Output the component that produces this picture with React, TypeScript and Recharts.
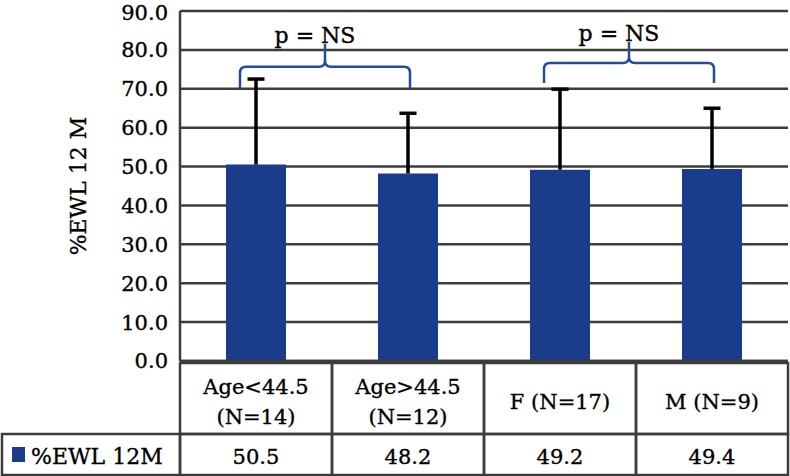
import { Bar, BarChart, CartesianGrid, ErrorBar, ReferenceArea, XAxis, YAxis } from 'recharts'

const categories = ['Age<44.5', 'Age>44.5', 'F (N=17)', 'M (N=9)']
const subLabels = ['(N=14)', '(N=12)', '', '']
const means = [50.5, 48.2, 49.2, 49.4]
const sds = [22.0, 15.5, 20.7, 15.6]
const yTicks = [0, 10, 20, 30, 40, 50, 60, 70, 80, 90]
const seriesName = '%EWL 12M'
const axisTitle = '%EWL 12 M'
const brackets = [
  { from: 'Age<44.5', to: 'Age>44.5', foot: 70, top: 81.5, text: 'p = NS' },
  { from: 'F (N=17)', to: 'M (N=9)', foot: 71.5, top: 82, text: 'p = NS' },
]

const data = categories.map((label, i) => ({
  label,
  sub: subLabels[i],
  value: means[i],
  err: [0, sds[i]],
}))

const W = 790
const H = 476
const LEFT = 180
const RIGHT = 2
const TOP = 11
const AXIS_H = 115
const ROW1 = 71
const ROW2 = 41
const colW = (W - LEFT - RIGHT) / categories.length

const FONT = '"DejaVu Serif", serif'
const BLUE = '#1a3c8b'
const GRID = '#3c3c3c'
// slightly heavier text, the source looks bolder than plain DejaVu
const txt = { fontFamily: FONT, fontSize: 21, fill: '#000', stroke: '#000', strokeWidth: 0.35 }

const TableCell = (props: any) => {
  const { x, y, payload, index } = props
  const d = data[payload.index ?? index]
  const left = x - colW / 2
  return (
    <g>
      <rect x={left} y={y} width={colW} height={ROW1} fill="none" stroke={GRID} strokeWidth={2.5} />
      <rect x={left} y={y + ROW1} width={colW} height={ROW2} fill="none" stroke={GRID} strokeWidth={2.5} />
      {d.sub ? (
        <>
          <text x={x} y={y + 31} textAnchor="middle" {...txt}>
            {d.label}
          </text>
          <text x={x} y={y + 61} textAnchor="middle" {...txt}>
            {d.sub}
          </text>
        </>
      ) : (
        <text x={x} y={y + 46} textAnchor="middle" {...txt}>
          {d.label}
        </text>
      )}
      <text x={x} y={y + ROW1 + 30} textAnchor="middle" {...txt}>
        {d.value.toFixed(1)}
      </text>
      {index === 0 && (
        <g>
          <rect x={2} y={y + ROW1} width={LEFT - 2} height={ROW2} fill="none" stroke={GRID} strokeWidth={2.5} />
          <rect x={12} y={y + ROW1 + 13} width={13} height={15} fill={BLUE} />
          <text x={31} y={y + ROW1 + 30} {...txt} fontSize={22}>
            {seriesName}
          </text>
        </g>
      )}
    </g>
  )
}

const Brace = (props: any) => {
  const { x, y, width, height, text } = props
  const L = x + colW / 2 - 16
  const R = x + width - colW / 2 + 2
  const xC = (L + R) / 2
  const yT = y
  const yF = y + height
  const yM = y + height * 0.51
  const r = 6
  const d = [
    `M ${L} ${yF}`,
    `L ${L} ${yM + r}`,
    `Q ${L} ${yM} ${L + r} ${yM}`,
    `L ${xC - r} ${yM}`,
    `Q ${xC} ${yM} ${xC} ${yM - r}`,
    `L ${xC} ${yT}`,
    `M ${xC} ${yM - r}`,
    `Q ${xC} ${yM} ${xC + r} ${yM}`,
    `L ${R - r} ${yM}`,
    `Q ${R} ${yM} ${R} ${yM + r}`,
    `L ${R} ${yF}`,
  ].join(' ')
  return (
    <g>
      <path d={d} fill="none" stroke="#244c9c" strokeWidth={2.5} />
      <text x={xC - 10} y={yT - 1} textAnchor="middle" {...txt} fontSize={22}>
        {text}
      </text>
    </g>
  )
}

const App = () => {
  return (
    <div style={{ position: 'absolute', left: 0, top: 0, width: W, height: H, background: '#fff' }}>
      <style>{'.recharts-errorBar line:nth-of-type(3){display:none}'}</style>
      <BarChart
        width={W}
        height={H}
        data={data}
        margin={{ top: TOP, right: RIGHT, bottom: 0, left: 0 }}
        barCategoryGap={0}
      >
        <CartesianGrid vertical={false} stroke={GRID} strokeWidth={2.5} />
        <XAxis
          dataKey="label"
          height={AXIS_H}
          interval={0}
          tickLine={false}
          tickSize={0}
          axisLine={{ stroke: GRID, strokeWidth: 2.5 }}
          tick={<TableCell />}
        />
        <YAxis
          width={LEFT}
          domain={[0, 90]}
          ticks={yTicks}
          tickFormatter={(v: number) => v.toFixed(1)}
          tickLine={false}
          tickSize={0}
          tickMargin={12}
          axisLine={{ stroke: GRID, strokeWidth: 2.5 }}
          tick={txt}
          label={{
            value: axisTitle,
            angle: -90,
            position: 'insideLeft',
            offset: 78,
            textAnchor: 'middle',
            style: { textAnchor: 'middle', ...txt, fontSize: 22 },
          }}
        />
        {brackets.map((b, i) => (
          <ReferenceArea
            key={i}
            x1={b.from}
            x2={b.to}
            y1={b.foot}
            y2={b.top}
            shape={(p: any) => <Brace {...p} text={b.text} />}
          />
        ))}
        <Bar dataKey="value" fill={BLUE} barSize={60} isAnimationActive={false}>
          <ErrorBar dataKey="err" width={8.5} stroke="#000" strokeWidth={3.5} direction="y" />
        </Bar>
      </BarChart>
    </div>
  )
}

export default App
